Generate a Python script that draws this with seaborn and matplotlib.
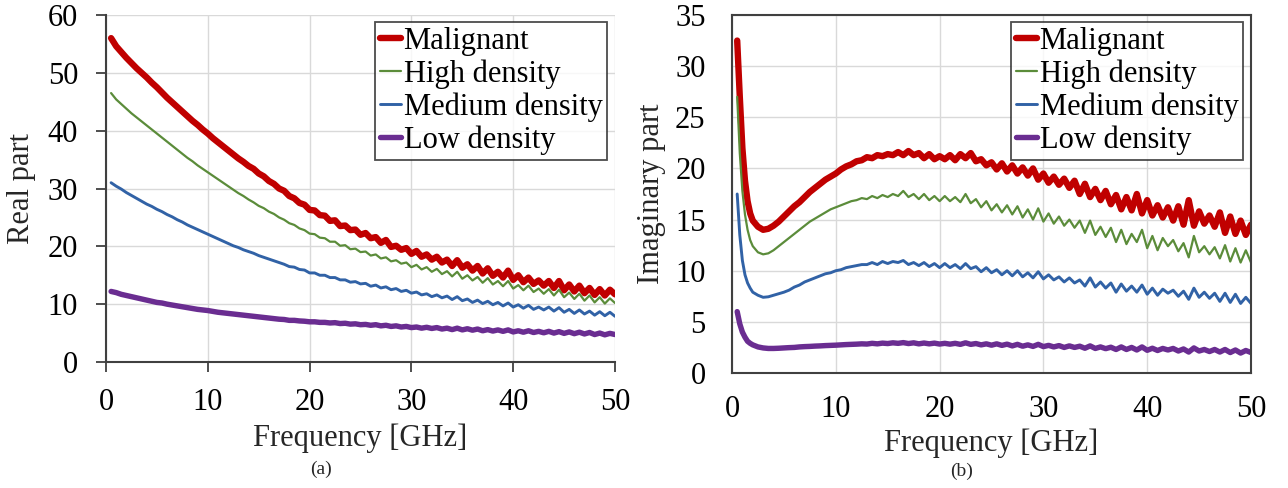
import numpy as np
import pandas as pd
import matplotlib
matplotlib.use("Agg")
import matplotlib.pyplot as plt
import seaborn as sns

# ---------------- data ----------------
series_names = ["Malignant", "High density", "Medium density", "Low density"]
series_colors = ["#C00000", "#5B8C3A", "#3162A6", "#6A2D91"]
series_widths = [4.6, 1.6, 2.1, 3.9]

freq_a = list(np.arange(0.5, 50.01, 0.5))
real_malignant = [56.0, 54.6, 53.6, 52.6, 51.7, 50.8, 50.0, 49.2, 48.3, 47.5,
                  46.6, 45.7, 44.9, 44.1, 43.3, 42.5, 41.7, 41.0, 40.2, 39.5,
                  38.7, 38.0, 37.3, 36.6, 35.9, 35.2, 34.6, 33.9, 33.4, 32.6,
                  32.1, 31.3, 30.8, 30.0, 29.6, 28.7, 28.3, 27.5, 27.2, 26.3,
                  26.2, 25.4, 25.3, 24.4, 24.5, 23.5, 23.6, 22.8, 22.9, 22.0,
                  22.3, 21.4, 21.6, 20.6, 21.1, 19.9, 20.1, 19.4, 19.7, 18.7,
                  19.2, 18.2, 18.6, 17.7, 18.2, 17.2, 17.7, 16.6, 17.6, 16.3,
                  16.9, 15.8, 16.6, 15.3, 16.2, 14.9, 15.6, 14.6, 15.8, 14.2,
                  15.0, 13.8, 14.6, 13.5, 14.1, 13.2, 14.0, 12.8, 14.0, 12.4,
                  13.4, 12.2, 13.2, 11.9, 12.8, 11.6, 12.6, 11.5, 12.5, 11.7]
real_high = [46.5, 45.4, 44.6, 43.8, 43.0, 42.3, 41.6, 40.9, 40.2, 39.5,
             38.8, 38.1, 37.4, 36.7, 36.0, 35.3, 34.7, 34.0, 33.4, 32.8,
             32.2, 31.6, 31.0, 30.4, 29.8, 29.2, 28.7, 28.1, 27.6, 27.0,
             26.6, 26.0, 25.6, 25.0, 24.6, 24.0, 23.7, 23.1, 22.8, 22.2,
             22.1, 21.5, 21.4, 20.8, 20.8, 20.1, 20.2, 19.5, 19.6, 19.0,
             19.1, 18.4, 18.6, 17.9, 18.1, 17.4, 17.6, 17.0, 17.2, 16.4,
             16.8, 16.0, 16.4, 15.6, 16.1, 15.2, 15.7, 14.8, 15.6, 14.4,
             15.0, 14.1, 14.7, 13.7, 14.5, 13.4, 14.0, 13.1, 14.0, 12.7,
             13.3, 12.4, 13.2, 12.1, 12.7, 11.8, 12.6, 11.5, 12.5, 11.2,
             12.0, 10.9, 11.8, 10.6, 11.5, 10.3, 11.2, 10.1, 11.0, 10.2]
real_medium = [31.0, 30.4, 29.9, 29.3, 28.8, 28.3, 27.8, 27.3, 26.9, 26.4,
               26.0, 25.5, 25.1, 24.6, 24.2, 23.7, 23.3, 22.9, 22.5, 22.1,
               21.7, 21.3, 20.9, 20.5, 20.1, 19.8, 19.4, 19.1, 18.8, 18.4,
               18.1, 17.8, 17.5, 17.2, 16.9, 16.5, 16.4, 16.0, 15.9, 15.4,
               15.4, 15.0, 15.0, 14.6, 14.6, 14.2, 14.2, 13.8, 13.9, 13.5,
               13.6, 13.1, 13.3, 12.8, 13.0, 12.5, 12.7, 12.2, 12.4, 11.9,
               12.1, 11.6, 11.8, 11.3, 11.6, 11.1, 11.4, 10.8, 11.3, 10.6,
               10.9, 10.3, 10.7, 10.1, 10.5, 9.9, 10.3, 9.7, 10.2, 9.5,
               9.9, 9.3, 9.8, 9.1, 9.5, 9.0, 9.5, 8.8, 9.4, 8.6,
               9.1, 8.4, 9.0, 8.3, 8.8, 8.1, 8.7, 8.0, 8.6, 7.9]
real_low = [12.2, 12.0, 11.7, 11.5, 11.3, 11.1, 10.9, 10.7, 10.5, 10.3,
            10.2, 10.0, 9.85, 9.7, 9.55, 9.4, 9.25, 9.1, 9.0, 8.9,
            8.75, 8.6, 8.5, 8.4, 8.3, 8.2, 8.1, 8.0, 7.9, 7.8,
            7.7, 7.6, 7.5, 7.4, 7.35, 7.2, 7.2, 7.1, 7.05, 6.95,
            6.95, 6.85, 6.85, 6.75, 6.8, 6.65, 6.7, 6.55, 6.6, 6.45,
            6.5, 6.35, 6.45, 6.25, 6.35, 6.15, 6.25, 6.05, 6.15, 5.95,
            6.05, 5.85, 6.0, 5.8, 5.95, 5.7, 5.85, 5.6, 5.85, 5.55,
            5.75, 5.5, 5.7, 5.4, 5.6, 5.35, 5.55, 5.3, 5.55, 5.2,
            5.4, 5.15, 5.4, 5.1, 5.3, 5.05, 5.3, 5.0, 5.25, 4.95,
            5.2, 4.9, 5.15, 4.85, 5.1, 4.75, 5.0, 4.7, 4.95, 4.75]

freq_b = [0.5, 0.75, 1.0, 1.25, 1.5, 1.75] + list(np.arange(2.0, 50.01, 0.5))
imag_malignant = [32.5, 27.0, 22.0, 18.8, 16.8, 15.6,
                  14.9, 14.3, 14.0, 14.1, 14.4, 14.8, 15.3, 15.8, 16.3, 16.7,
                  17.2, 17.7, 18.1, 18.5, 18.9, 19.2, 19.5, 19.9, 20.2, 20.4,
                  20.7, 20.8, 21.1, 21.0, 21.3, 21.2, 21.4, 21.3, 21.6, 21.3,
                  21.7, 21.3, 21.5, 21.0, 21.4, 20.9, 21.2, 20.9, 21.3, 20.8,
                  21.4, 21.0, 21.5, 20.7, 20.9, 20.3, 20.6, 19.9, 20.5, 19.7,
                  20.3, 19.5, 20.1, 19.3, 20.0, 18.9, 19.5, 18.6, 19.2, 18.4,
                  19.0, 18.1, 18.8, 17.5, 18.5, 17.2, 18.0, 16.9, 17.8, 16.5,
                  17.4, 16.0, 17.2, 15.9, 17.5, 15.6, 16.9, 15.4, 16.4, 15.2,
                  16.2, 14.9, 16.3, 14.5, 16.9, 14.4, 15.8, 14.6, 15.4, 14.3,
                  15.7, 13.7, 15.3, 13.6, 14.9, 13.5, 14.5]
imag_high = [27.0, 21.5, 17.8, 15.5, 14.0, 13.0,
             12.4, 11.8, 11.6, 11.7, 12.0, 12.4, 12.8, 13.2, 13.6, 14.0,
             14.4, 14.8, 15.1, 15.4, 15.7, 16.0, 16.2, 16.4, 16.6, 16.8,
             16.9, 17.1, 17.0, 17.3, 17.1, 17.4, 17.2, 17.5, 17.3, 17.8,
             17.2, 17.5, 17.0, 17.5, 16.9, 17.3, 16.8, 17.3, 16.8, 17.2,
             16.7, 17.5, 16.6, 17.0, 16.2, 16.8, 15.9, 16.5, 15.7, 16.4,
             15.5, 16.3, 15.2, 16.0, 15.0, 16.1, 14.8, 15.6, 14.6, 15.3,
             14.4, 15.0, 14.2, 14.9, 13.7, 14.9, 13.5, 14.3, 13.3, 14.2,
             12.8, 14.0, 12.6, 13.6, 12.8, 14.0, 12.2, 13.4, 12.0, 13.2,
             12.4, 13.0, 11.9, 12.7, 11.3, 13.4, 11.8, 12.4, 11.6, 12.3,
             11.2, 12.5, 10.9, 12.2, 10.8, 12.0, 10.8]
imag_medium = [17.5, 13.5, 11.0, 9.6, 8.8, 8.3,
               7.9, 7.6, 7.4, 7.45, 7.6, 7.75, 7.9, 8.1, 8.4, 8.6,
               8.9, 9.1, 9.3, 9.5, 9.7, 9.8, 10.0, 10.1, 10.3, 10.4,
               10.5, 10.6, 10.6, 10.8, 10.6, 10.9, 10.7, 10.9, 10.8, 11.0,
               10.6, 10.8, 10.5, 10.8, 10.4, 10.7, 10.3, 10.7, 10.3, 10.6,
               10.2, 10.7, 10.2, 10.4, 9.9, 10.3, 9.8, 10.1, 9.6, 10.0,
               9.5, 10.0, 9.4, 9.8, 9.3, 9.9, 9.2, 9.6, 9.1, 9.4,
               8.9, 9.3, 8.8, 9.1, 8.5, 9.3, 8.4, 8.9, 8.3, 8.8,
               7.9, 8.7, 8.0, 8.5, 7.9, 8.6, 7.7, 8.3, 7.6, 8.2,
               7.8, 8.1, 7.5, 8.0, 7.2, 8.3, 7.4, 7.9, 7.3, 7.8,
               7.0, 7.8, 6.9, 7.7, 6.8, 7.4, 6.8]
imag_low = [6.0, 4.8, 4.0, 3.5, 3.1, 2.9,
            2.75, 2.55, 2.45, 2.4, 2.4, 2.42, 2.45, 2.48, 2.5, 2.55,
            2.58, 2.6, 2.63, 2.65, 2.68, 2.7, 2.72, 2.75, 2.78, 2.8,
            2.82, 2.85, 2.83, 2.9, 2.85, 2.92, 2.88, 2.95, 2.9, 2.97,
            2.88, 2.95, 2.85, 2.93, 2.85, 2.92, 2.83, 2.9, 2.82, 2.9,
            2.8, 2.95, 2.8, 2.88, 2.75, 2.85, 2.72, 2.85, 2.7, 2.82,
            2.65, 2.8, 2.62, 2.75, 2.6, 2.8, 2.58, 2.7, 2.55, 2.68,
            2.5, 2.65, 2.5, 2.62, 2.42, 2.65, 2.4, 2.55, 2.38, 2.52,
            2.3, 2.55, 2.3, 2.5, 2.25, 2.55, 2.22, 2.42, 2.2, 2.4,
            2.25, 2.4, 2.15, 2.35, 2.05, 2.45, 2.15, 2.3, 2.1, 2.3,
            2.05, 2.3, 2.0, 2.25, 1.95, 2.2, 2.0]

xticks = [0, 10, 20, 30, 40, 50]
yticks_a = [0, 10, 20, 30, 40, 50, 60]
yticks_b = [0, 5, 10, 15, 20, 25, 30, 35]
xlabel = "Frequency [GHz]"
ylabel_a = "Real part"
ylabel_b = "Imaginary part"
captions = ["(a)", "(b)"]

# ---------------- style ----------------
sns.set_theme(style="white")
plt.rcParams["font.family"] = ["Liberation Serif", "DejaVu Serif"]

W, H = 1288, 488
fig = plt.figure(figsize=(W / 100, H / 100), dpi=100)

def rect(x0, x1, ytop, ybot):
    return [x0 / W, 1 - ybot / H, (x1 - x0) / W, (ybot - ytop) / H]

ax_a = fig.add_axes(rect(106, 615, 15, 362))
ax_b = fig.add_axes(rect(732, 1251, 15, 373))

def make_df(freq, vals):
    rows = []
    for name, v in zip(series_names, vals):
        rows.append(pd.DataFrame({"freq": freq, "value": v, "tissue": name}))
    return pd.concat(rows, ignore_index=True)

df_a = make_df(freq_a, [real_malignant, real_high, real_medium, real_low])
df_b = make_df(freq_b, [imag_malignant, imag_high, imag_medium, imag_low])

grid_c = "#D9D9D9"
spine_c = "#404040"

for ax, df, yt, ylab in [(ax_a, df_a, yticks_a, ylabel_a), (ax_b, df_b, yticks_b, ylabel_b)]:
    for name, col, lw in zip(series_names, series_colors, series_widths):
        sub = df[df["tissue"] == name]
        sns.lineplot(data=sub, x="freq", y="value", ax=ax, color=col,
                     linewidth=lw, label=name, estimator=None, sort=False)
    ax.set_xlim(0, 50)
    ax.set_ylim(yt[0], yt[-1])
    ax.set_xticks(xticks)
    ax.set_yticks(yt)
    ax.grid(True, color=grid_c, linewidth=1.0)
    ax.set_axisbelow(True)
    ax.set_xlabel(xlabel, fontsize=22)
    ax.set_ylabel(ylab, fontsize=22)
    ax.xaxis.label.set_va("center")
    ax.yaxis.label.set_va("center")
    for lab in ax.get_xticklabels() + ax.get_yticklabels():
        lab.set_fontsize(22)
        lab.set_color("black")
    leg = ax.legend(loc="upper right", fontsize=22, handlelength=0.7,
                    handletextpad=0.08, labelspacing=0.12, borderpad=0.15,
                    borderaxespad=0, frameon=True, fancybox=False,
                    bbox_to_anchor=(1 - 8 / ax.bbox.width, 1 - 7 / ax.bbox.height))
    leg.get_frame().set_edgecolor("#202020")
    leg.get_frame().set_linewidth(1.3)
    for t in leg.get_texts():
        t.set_color("black")

# panel (a): left/bottom axis lines with outward ticks
for s in ["top", "right"]:
    ax_a.spines[s].set_visible(False)
for s in ["left", "bottom"]:
    ax_a.spines[s].set_color(spine_c)
    ax_a.spines[s].set_linewidth(1.5)
ax_a.tick_params(axis="both", which="major", direction="out", length=7,
                 width=1.3, color=spine_c, bottom=True, left=True)
ax_a.tick_params(axis="x", pad=12)
ax_a.tick_params(axis="y", pad=13)
ax_a.xaxis.set_label_coords(0.5, (362 - 438) / 347)
ax_a.yaxis.set_label_coords((21 - 106) / 509, 0.5)

# panel (b): full frame, no tick marks
for s in ["top", "right", "left", "bottom"]:
    ax_b.spines[s].set_visible(True)
    ax_b.spines[s].set_color(spine_c)
    ax_b.spines[s].set_linewidth(1.5)
ax_b.tick_params(axis="both", length=0)
ax_b.tick_params(axis="x", pad=16)
ax_b.tick_params(axis="y", pad=19)
ax_b.xaxis.set_label_coords(0.5, (373 - 443) / 358)
ax_b.yaxis.set_label_coords((651 - 732) / 519, 0.5)

fig.text(321 / W, 1 - 469 / H, captions[0], fontsize=14, ha="center", va="center")
fig.text(962 / W, 1 - 471 / H, captions[1], fontsize=14, ha="center", va="center")

fig.savefig("out.png", dpi=100)
